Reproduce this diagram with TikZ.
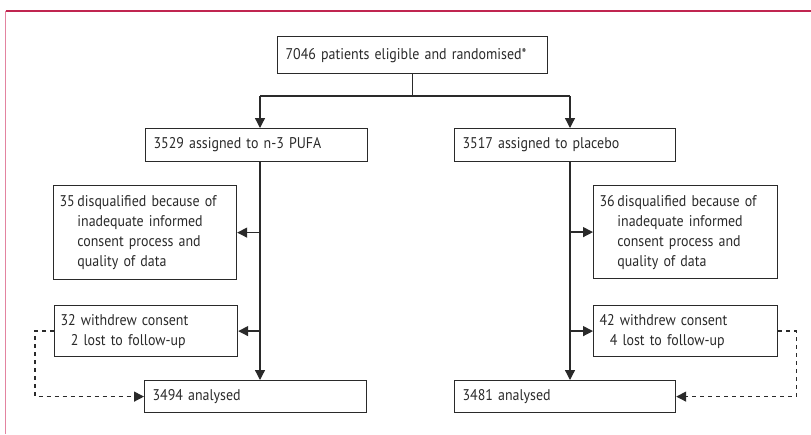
\documentclass[tikz,border=0pt]{standalone}
\usepackage{fontspec}
\setmainfont{PT Sans}[FakeStretch=0.9]
\usetikzlibrary{arrows.meta}
\definecolor{ink}{HTML}{2A2A2A}
\definecolor{frametop}{HTML}{C02550}
\definecolor{frameleft}{HTML}{E384A0}
\tikzset{
  box/.style={draw=ink, line width=1.2pt, anchor=north west, inner xsep=8pt, inner ysep=0pt,
    align=left, text=ink, font=\fontsize{15.5}{20}\selectfont},
  conn/.style={draw=ink, line width=1.3pt},
  arr/.style={conn, -{Triangle[length=10pt,width=10pt]}},
  darr/.style={arr, dash pattern=on 4pt off 4pt}
}
\begin{document}
\begin{tikzpicture}[x=1pt,y=-1pt]
\useasboundingbox (0,0) rectangle (811,434);
% frame
\draw[frametop, line width=1.5pt] (5.5,11) -- (811,11);
\draw[frameleft, line width=1.6pt] (5.5,11) -- (5.5,434);
% boxes
\node[box, text width=254pt, minimum height=37pt] (top) at (277,36) {7046 patients eligible and randomised*};
\node[box, text width=206pt, minimum height=33pt] (lmid) at (145,128) {3529 assigned to n-3 PUFA};
\node[box, text width=205pt, minimum height=33pt] (rmid) at (454,128) {3517 assigned to placebo};
\node[box, text width=171pt, minimum height=94pt, inner xsep=6pt] (ldis) at (53,185) {\begin{tabular}{@{}l@{\,}l@{}}35 & disqualified because of\\ & inadequate informed\\ & consent process and\\ & quality of data\end{tabular}};
\node[box, text width=172pt, minimum height=93pt, inner xsep=6pt] (rdis) at (593,185) {\begin{tabular}{@{}l@{\,}l@{}}36 & disqualified because of\\ & inadequate informed\\ & consent process and\\ & quality of data\end{tabular}};
\node[box, text width=171pt, minimum height=51pt, inner xsep=6pt] (lwd) at (54,305) {32 withdrew consent\\\phantom{3}\,2 lost to follow-up};
\node[box, text width=172pt, minimum height=51pt, inner xsep=6pt] (rwd) at (593,305) {42 withdrew consent\\\phantom{4}\,4 lost to follow-up};
\node[box, text width=206pt, minimum height=32pt] (lana) at (144,380) {3494 analysed};
\node[box, text width=205pt, minimum height=32pt] (rana) at (454,380) {3481 analysed};
% trunk coordinates
\coordinate (lx) at (260,96);
\coordinate (rx) at (570,96);
% connectors
\draw[conn] (top.south) -- (top.south |- lx);
\draw[arr] (lx) -- (lx |- lmid.north);
\draw[arr] (rx) -- (rx |- rmid.north);
\draw[conn] (lx) -- (rx);
\draw[arr] (lx |- lmid.south) -- (lx |- lana.north);
\draw[arr] (rx |- rmid.south) -- (rx |- rana.north);
\draw[arr] (lx |- ldis.east) -- (ldis.east);
\draw[arr] (lx |- lwd.east) -- (lwd.east);
\draw[arr] (rx |- rdis.west) -- (rdis.west);
\draw[arr] (rx |- rwd.west) -- (rwd.west);
\draw[darr] (lwd.west) -- ++(-19,0) |- (lana.west);
\draw[darr] (rwd.east) -- ++(18,0) |- (rana.east);
\end{tikzpicture}
\end{document}
